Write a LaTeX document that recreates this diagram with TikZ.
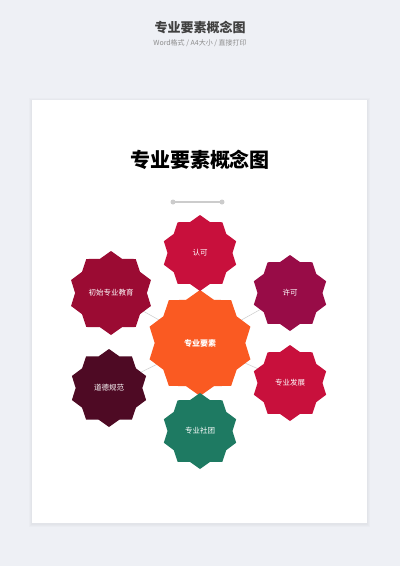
\documentclass[tikz,border=0pt]{standalone}
\usepackage{fontspec}
\setmainfont{Noto Sans CJK SC}
\usetikzlibrary{shapes.geometric}
\definecolor{pagebg}{HTML}{EEF0F5}
\definecolor{cRed}{HTML}{C8103C}
\definecolor{cWine}{HTML}{9B0B33}
\definecolor{cPlum}{HTML}{980C47}
\definecolor{cOrange}{HTML}{FA5A22}
\definecolor{cDark}{HTML}{4E0A24}
\definecolor{cGreen}{HTML}{1E7A62}
\pgfdeclarelayer{paper}
\pgfdeclarelayer{links}
\pgfsetlayers{paper,links,main}
\tikzset{
	burst/.style={star, star points=10, star point ratio=1.17, inner sep=0pt,
		minimum size=76pt, draw=none, text=white, font=\fontsize{7.5}{9}\selectfont},
	link/.style={draw=black!20, line width=0.5pt}
}
\begin{document}
\begin{tikzpicture}[x=1pt, y=-1pt]
	%page
	\useasboundingbox (0,0) rectangle (400,566);
	\begin{pgfonlayer}{paper}
		\fill[pagebg] (0,0) rectangle (400,566);
		\foreach \s in {3,2,1}
		\fill[black, opacity=0.015] (32-\s,100-\s+1) rectangle (367+\s,523+\s+1);
		\fill[white] (32,100) rectangle (367,523);
	\end{pgfonlayer}
	\node[font=\bfseries\fontsize{13}{15}\selectfont, text=black!75] (head) at (200,28) {专业要素概念图};
	\node[font=\fontsize{7}{8}\selectfont, text=black!45] (sub) at (200,43) {Word格式 / A4大小 / 直接打印};
	%title
	\node[font=\bfseries\fontsize{20}{24}\selectfont] (title) at (200,160) {专业要素概念图};
	\draw[black!20, line width=1.5pt] (174,202) -- (221,202);
	\fill[black!20] (173,202) circle (2.5pt) (222,202) circle (2.5pt);
	%stars
	\node[burst, fill=cOrange, minimum size=106pt, font=\bfseries\fontsize{8}{10}\selectfont] (core) at (200,343) {专业要素};
	\foreach \name/\pos/\col/\size/\txt in {
		renke/{200,253}/cRed/76/认可,
		chushi/{111,293}/cWine/84/初始专业教育,
		xuke/{290,293}/cPlum/76/许可,
		daode/{109,388}/cDark/78/道德规范,
		fazhan/{290,383}/cRed/76/专业发展,
		shetuan/{200,431}/cGreen/76/专业社团
	}
	\node[burst, fill=\col, minimum size=\size pt] (\name) at (\pos) {\txt};
	%links
	\begin{pgfonlayer}{links}
		\foreach \name in {renke,chushi,xuke,daode,fazhan,shetuan}
		\draw[link] (core.center) -- (\name.center);
	\end{pgfonlayer}
\end{tikzpicture}
\end{document}
